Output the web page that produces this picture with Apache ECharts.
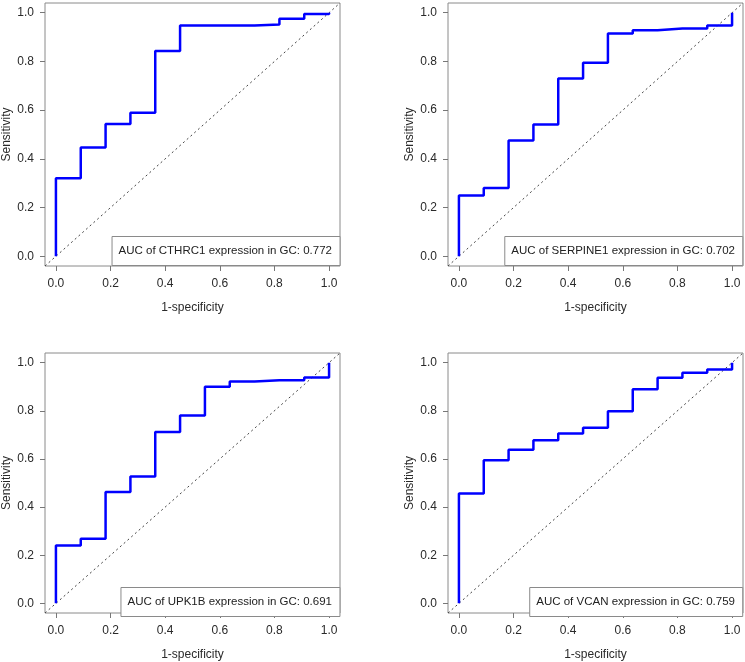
<!DOCTYPE html>
<html>
<head>
<meta charset="utf-8">
<script src="https://cdn.jsdelivr.net/npm/echarts@6/dist/echarts.min.js"></script>
<style>
html,body{margin:0;padding:0;background:#fff;}
#chart{width:745px;height:662px;}
</style>
</head>
<body>
<div id="chart"></div>
<script>
// 1-specificity values where the ROC steps occur (11 controls)
const fprSteps = [0, 0.0909, 0.1818, 0.2727, 0.3636, 0.4545, 0.5455, 0.6364, 0.7273, 0.8182, 0.9091, 1.0];
// sensitivity reached at each step
const sensCTHRC1  = [0.320, 0.447, 0.543, 0.589, 0.843, 0.948, 0.948, 0.948, 0.952, 0.975, 0.995, 1.0];
const sensSERPINE1 = [0.250, 0.280, 0.475, 0.541, 0.730, 0.795, 0.915, 0.928, 0.935, 0.935, 0.948, 1.0];
const sensUPK1B   = [0.240, 0.268, 0.463, 0.527, 0.712, 0.780, 0.900, 0.922, 0.927, 0.927, 0.938, 1.0];
const sensVCAN    = [0.456, 0.594, 0.638, 0.678, 0.706, 0.729, 0.798, 0.889, 0.937, 0.958, 0.971, 1.0];
const legendTexts = [
  'AUC of CTHRC1 expression in GC: 0.772',
  'AUC of SERPINE1 expression in GC: 0.702',
  'AUC of UPK1B expression in GC: 0.691',
  'AUC of VCAN expression in GC: 0.759'
];
const tickVals = [0, 0.2, 0.4, 0.6, 0.8, 1.0];
const axisMin = -0.04, axisMax = 1.04;
const xTitle = '1-specificity';
const yTitle = 'Sensitivity';

const allSens = [sensCTHRC1, sensSERPINE1, sensUPK1B, sensVCAN];

function stepPoints(sens) {
  const pts = [[0, 0]];
  let prev = 0;
  for (let i = 0; i < fprSteps.length; i++) {
    pts.push([fprSteps[i], prev]);
    pts.push([fprSteps[i], sens[i]]);
    prev = sens[i];
  }
  return pts;
}

const FONT = 'Liberation Sans, Arial, Helvetica, sans-serif';
const grids = [
  {left: 45, top: 3, width: 295, height: 263},
  {left: 448, top: 3, width: 295, height: 263},
  {left: 45, top: 353, width: 295, height: 264},
  {left: 448, top: 353, width: 295, height: 264}
];
const titlePos = [
  {right: 405, bottom: 396},
  {right: 2, bottom: 396},
  {right: 405, bottom: 45},
  {right: 2, bottom: 45}
];

const option = {
  animation: false,
  backgroundColor: '#fff',
  grid: grids.map(g => Object.assign({show: true, borderColor: '#8a8a8a', borderWidth: 1, containLabel: false}, g)),
  title: legendTexts.map((t, i) => Object.assign({
    text: t,
    textStyle: {fontFamily: FONT, fontSize: 11.5, fontWeight: 'normal', color: '#222', lineHeight: 14},
    padding: [8, 8, 8, 7],
    borderColor: '#8a8a8a', borderWidth: 1, backgroundColor: '#fff', z: 10
  }, titlePos[i])),
  xAxis: grids.map((g, i) => ({
    gridIndex: i, type: 'value', min: axisMin, max: axisMax,
    axisLine: {show: false, onZero: false},
    splitLine: {show: false},
    axisTick: {show: true, customValues: tickVals, length: 5, lineStyle: {color: '#777'}},
    axisLabel: {customValues: tickVals, formatter: v => Number(v).toFixed(1), margin: 12,
      fontSize: 12, color: '#2a2a2a', fontFamily: FONT},
    name: xTitle, nameLocation: 'middle', nameGap: 36,
    nameTextStyle: {fontSize: 12, color: '#2a2a2a', fontFamily: FONT}
  })),
  yAxis: grids.map((g, i) => ({
    gridIndex: i, type: 'value', min: axisMin, max: axisMax,
    axisLine: {show: false, onZero: false},
    splitLine: {show: false},
    axisTick: {show: true, customValues: tickVals, length: 5, lineStyle: {color: '#777'}},
    axisLabel: {customValues: tickVals, formatter: v => Number(v).toFixed(1), margin: 11,
      fontSize: 12, color: '#2a2a2a', fontFamily: FONT},
    name: yTitle, nameLocation: 'middle', nameGap: 32,
    nameTextStyle: {fontSize: 12, color: '#2a2a2a', fontFamily: FONT}
  })),
  series: []
};

allSens.forEach((s, i) => {
  option.series.push({
    type: 'line', xAxisIndex: i, yAxisIndex: i, silent: true,
    data: [[axisMin, axisMin], [axisMax, axisMax]],
    showSymbol: false, symbol: 'none',
    lineStyle: {color: '#444', width: 1, type: [2, 3]}, z: 1
  });
  option.series.push({
    type: 'line', xAxisIndex: i, yAxisIndex: i, silent: true,
    data: stepPoints(s), showSymbol: false, symbol: 'none',
    lineStyle: {color: '#0000ff', width: 2.5}, z: 2
  });
});

const chart = echarts.init(document.getElementById('chart'), null, {renderer: 'canvas'});
chart.setOption(option);
</script>
</body>
</html>
